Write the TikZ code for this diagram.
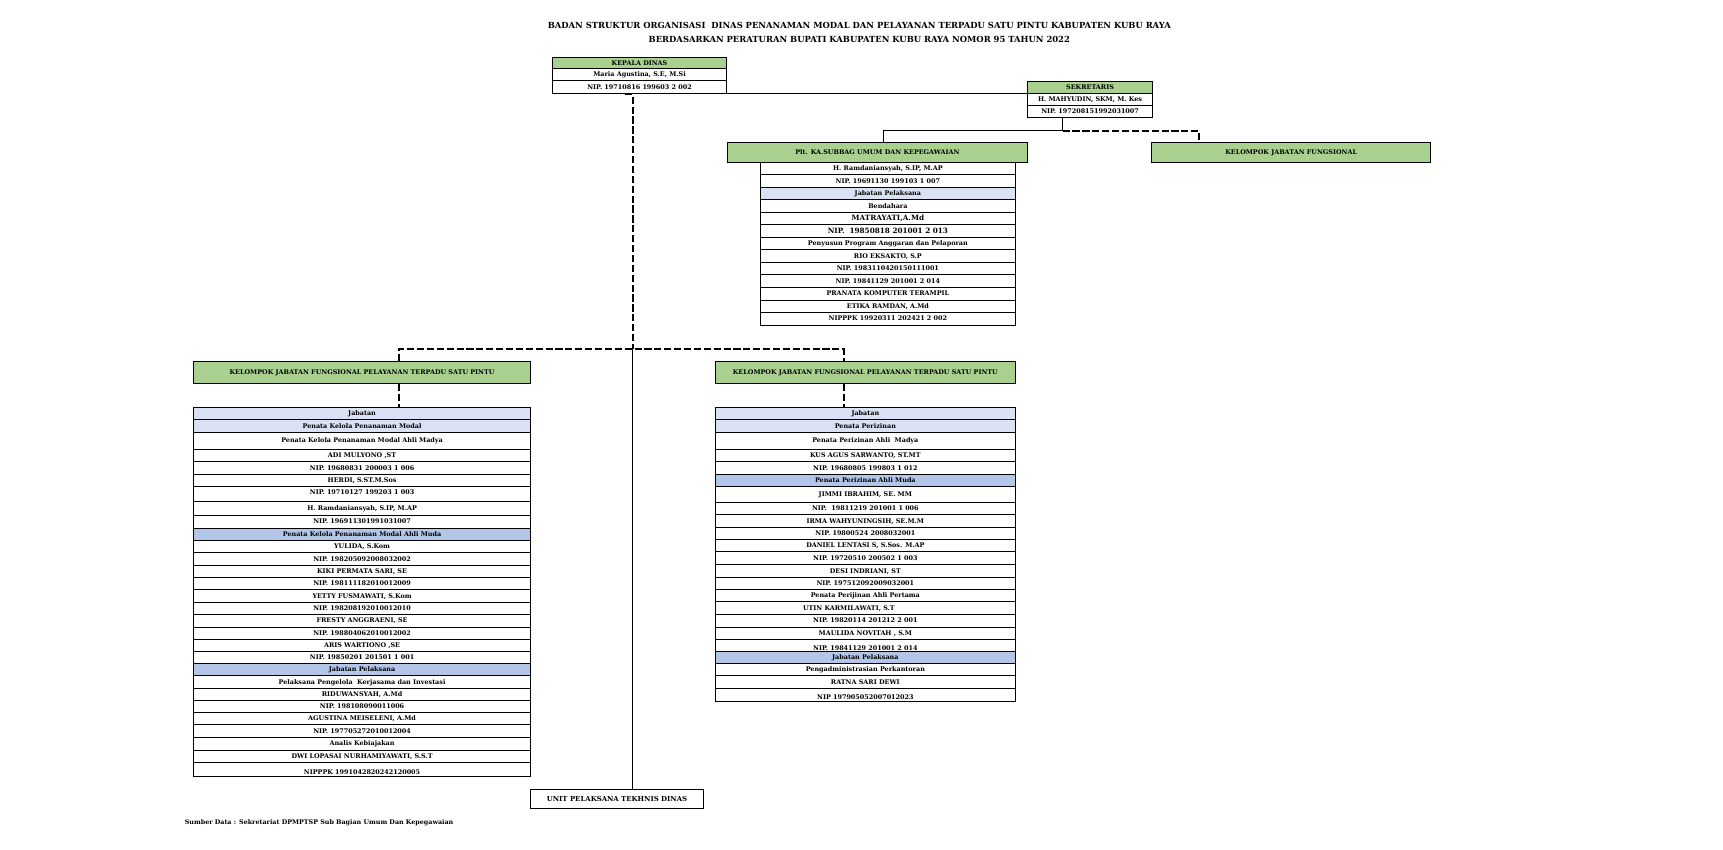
\documentclass[tikz,border=0pt]{standalone}
\usepackage{fontspec}
\setmainfont{DejaVu Serif}

\definecolor{hdrgreen}{HTML}{A9D08E}
\definecolor{jabpale}{HTML}{D9E1F2}
\definecolor{jabblue}{HTML}{B4C6E7}
\newcommand{\rowfont}{\bfseries\fontsize{5.85}{6.5}\selectfont}
\newcommand{\bigrow}{\fontsize{6.6}{7}\selectfont}

\begin{document}
\begin{tikzpicture}
        [x=1pt, y=-1pt,
         every node/.style={
             font=\rowfont,
             inner sep=0pt,
             text height=4.2pt,
             text depth=0.2pt
         },
         rowbox/.style={
             draw,
             line width=0.6pt
         },
         headbox/.style={
             draw,
             fill=hdrgreen,
             line width=0.9pt
         },
         titletext/.style={
             font=\bfseries\fontsize{7.65}{9}\selectfont,
             text height=5.7pt,
             text depth=1.6pt
         },
         link/.style={
             line width=1pt
         },
         dashlink/.style={
             line width=1.8pt,
             dash pattern=on 6.5pt off 2.5pt
         }
        ]
        \useasboundingbox (0,0) rectangle (1568,773.5);

        % judul
        \node[titletext] (ttl1) at (782,23.5) {BADAN STRUKTUR ORGANISASI \ DINAS PENANAMAN MODAL DAN PELAYANAN TERPADU SATU PINTU KABUPATEN KUBU RAYA};
        \node[titletext] (ttl2) at (782,36.5) {BERDASARKAN PERATURAN BUPATI KABUPATEN KUBU RAYA NOMOR 95 TAHUN 2022};

        % kepala dinas dan sekretaris
        \foreach \ya/\yb/\fc/\txt [count=\i] in {52/62.5/hdrgreen/KEPALA DINAS, 62.5/73.5/white/{Maria Agustina, S.E, M.Si}, 73.5/85/white/NIP. 19710816 199603 2 002}
            \node[rowbox, fill=\fc, minimum width=158pt, minimum height={(\yb-\ya)*1pt}] (kd\i) at (582,{(\ya+\yb)/2}) {\txt};
        \foreach \ya/\yb/\fc/\txt [count=\i] in {74/85/hdrgreen/SEKRETARIS, 85/96/white/{H. MAHYUDIN, SKM, M. Kes}, 96/107/white/NIP. 197208151992031007}
            \node[rowbox, fill=\fc, minimum width=114pt, minimum height={(\yb-\ya)*1pt}] (sk\i) at (992,{(\ya+\yb)/2}) {\txt};

        % subbag umum
        \node[headbox, minimum width=273pt, minimum height=18.5pt] (sub) at (798.5,138.75) {Plt. KA.SUBBAG UMUM DAN KEPEGAWAIAN};
        \node[headbox, minimum width=254pt, minimum height=18.5pt] (kjf) at (1175,138.75) {KELOMPOK JABATAN FUNGSIONAL};
        \foreach \fc/\txt [count=\i] in {white/{H. Ramdaniansyah, S.IP, M.AP}, white/NIP. 19691130 199103 1 007, jabpale/Jabatan Pelaksana, white/Bendahara, white/{\bigrow MATRAYATI,A.Md}, white/{\bigrow NIP.\ \ 19850818 201001 2 013}, white/Penyusun Program Anggaran dan Pelaporan, white/{RIO EKSAKTO, S.P}, white/NIP. 1983110420150111001, white/NIP. 19841129 201001 2 014, white/PRANATA KOMPUTER TERAMPIL, white/{ETIKA RAMDAN, A.Md}, white/NIPPPK 19920311 202421 2 002}
            \node[rowbox, fill=\fc, minimum width=232pt, minimum height=11.4pt] (sb\i) at (808,{141.8+11.4*\i}) {\txt};

        % kelompok jabatan fungsional kiri
        \node[headbox, minimum width=307pt, minimum height=20pt] (kpl) at (329.5,339) {KELOMPOK JABATAN FUNGSIONAL PELAYANAN TERPADU SATU PINTU};
        \foreach \ya/\yb/\fc/\dy/\txt [count=\i] in {
            371/382/jabpale/0/Jabatan,
            382/393/jabpale/0/Penata Kelola Penanaman Modal,
            393/409/white/0/Penata Kelola Penanaman Modal Ahli Madya,
            409/420/white/0/{ADI MULYONO ,ST},
            420/431.5/white/0/NIP. 19680831 200003 1 006,
            431.5/443/white/0/{HERDI, S.ST.M.Sos},
            443/456/white/1.5/NIP. 19710127 199203 1 003,
            456/469/white/0/{H. Ramdaniansyah, S.IP, M.AP},
            469/480.5/white/0/NIP. 196911301991031007,
            480.5/491.5/jabblue/0/Penata Kelola Penanaman Modal Ahli Muda,
            491.5/503/white/0/{YULIDA, S.Kom},
            503/514.5/white/0/NIP. 198205092008032002,
            514.5/525.5/white/0/{KIKI PERMATA SARI, SE},
            525.5/536.5/white/0/NIP. 198111182010012009,
            536.5/548/white/0/{YETTY FUSMAWATI, S.Kom},
            548/559/white/0/NIP. 198208192010012010,
            559/570.5/white/0/{FRESTY ANGGRAENI, SE},
            570.5/581.5/white/0/NIP. 198804062010012002,
            581.5/592.5/white/0/{ARIS WARTIONO ,SE},
            592.5/603.5/white/0/NIP. 19850201 201501 1 001,
            603.5/615/jabblue/0/Jabatan Pelaksana,
            615/626/white/0/Pelaksana Pengelola \ Kerjasama dan Investasi,
            626/637/white/0/{RIDUWANSYAH, A.Md},
            637/648.5/white/0/NIP. 198108090011006,
            648.5/659.5/white/0/{AGUSTINA MEISELENI, A.Md},
            659.5/671/white/0/NIP. 197705272010012004,
            671/682.5/white/0/Analis Kebiajakan,
            682.5/693.5/white/0/{DWI LOPASAI NURHAMIYAWATI, S.S.T},
            693.5/706.5/white/-3/NIPPPK 1991042820242120005}
            \node[rowbox, fill=\fc, minimum width=307pt, minimum height={(\yb-\ya)*1pt}] (kl\i) at (329.5,{(\ya+\yb)/2}) {\raisebox{\dy pt}{\txt}};

        % kelompok jabatan fungsional kanan
        \node[headbox, minimum width=273pt, minimum height=20pt] (kpr) at (787.5,339) {KELOMPOK JABATAN FUNGSIONAL PELAYANAN TERPADU SATU PINTU};
        \foreach \ya/\yb/\fc/\dy/\txt [count=\i] in {
            371/382/jabpale/0/Jabatan,
            382/393/jabpale/0/Penata Perizinan,
            393/409/white/0/Penata Perizinan Ahli \ Madya,
            409/420/white/0/{KUS AGUS SARWANTO, ST.MT},
            420/431.5/white/0/NIP. 19680805 199803 1 012,
            431.5/443/jabblue/0/Penata Perizinan Ahli Muda,
            443/457/white/0/{JIMMI IBRAHIM, SE. MM},
            457/468.5/white/0/NIP. \ 19811219 201001 1 006,
            468.5/480/white/0/{IRMA WAHYUNINGSIH, SE.M.M},
            480/491/white/0/NIP. 19800524 2008032001,
            491/502/white/0/{DANIEL LENTASI S, S.Sos. M.AP},
            502/514/white/0/NIP. 19720510 200502 1 003,
            514/525.5/white/0/{DESI INDRIANI, ST},
            525.5/536.5/white/0/NIP. 197512092009032001,
            536.5/547.5/white/0/Penata Perijinan Ahli Pertama,
            547.5/559/white/0/{\hspace*{-30pt}UTIN KARMILAWATI, S.T},
            559/570.5/white/0/NIP. 19820114 201212 2 001,
            570.5/581.5/white/0/{MAULIDA NOVITAH , S.M},
            581.5/593/white/-3/NIP. 19841129 201001 2 014,
            593/604/jabblue/0/Jabatan Pelaksana,
            604/615/white/0/Pengadministrasian Perkantoran,
            615/626/white/0/RATNA SARI DEWI,
            626/638.5/white/-2/NIP 197905052007012023}
            \node[rowbox, fill=\fc, minimum width=273pt, minimum height={(\yb-\ya)*1pt}] (kr\i) at (787.5,{(\ya+\yb)/2}) {\raisebox{\dy pt}{\txt}};

        % unit pelaksana dan sumber
        \node[rowbox, line width=0.8pt, minimum width=157pt, minimum height=18pt, font=\bfseries\fontsize{6.3}{7}\selectfont] (upt) at (561.5,727) {UNIT PELAKSANA TEKHNIS DINAS};
        \node[anchor=west, font=\bfseries\fontsize{5.8}{6.5}\selectfont] (src) at (168,748) {Sumber Data : Sekretariat DPMPTSP Sub Bagian Umum Dan Kepegawaian};

        % garis
        \coordinate (kdfoot) at (569,86);
        \coordinate (hub) at (576,318);
        \coordinate (skfoot) at (967,119);
        \draw[link] (kd3.south east) -- (sk1.south west);
        \draw[dashlink] (kdfoot) -| (hub);
        \draw[dashlink] ([xshift=33.5pt]kpl.north) |- (hub) -| ([xshift=-19.5pt]kpr.north);
        \draw[dashlink] ([xshift=33.5pt]kpl.south) -- ([xshift=33.5pt]kl1.north);
        \draw[dashlink] ([xshift=-19.5pt]kpr.south) -- ([xshift=-19.5pt]kr1.north);
        \draw[link] (hub) -- (hub |- upt.north);
        \draw[link] ([xshift=-25pt]sk3.south) -- (skfoot) -| ([xshift=5.5pt]sub.north);
        \draw[dashlink] (skfoot) -| ([xshift=-84pt]kjf.north);
    \end{tikzpicture}
\end{document}
